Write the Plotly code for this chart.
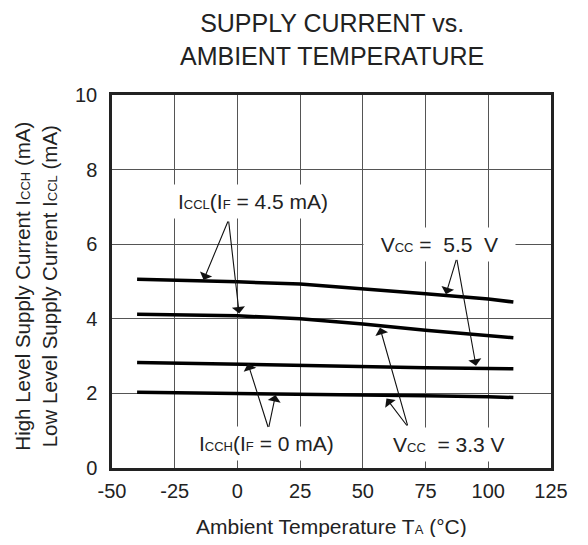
import plotly.graph_objects as go

# Data
temp = [-40, -25, 0, 25, 50, 75, 100, 110]
iccl_55 = [5.06, 5.04, 4.99, 4.93, 4.81, 4.67, 4.53, 4.45]
iccl_33 = [4.12, 4.10, 4.08, 4.00, 3.86, 3.69, 3.56, 3.49]
icch_55 = [2.83, 2.81, 2.78, 2.75, 2.72, 2.69, 2.67, 2.66]
icch_33 = [2.03, 2.02, 2.00, 1.99, 1.97, 1.94, 1.91, 1.89]

x_ticks = [-50, -25, 0, 25, 50, 75, 100, 125]
y_ticks = [0, 2, 4, 6, 8, 10]

FONT = "Liberation Sans, Arial, Helvetica, sans-serif"
SUB = "<span style='font-size:13px'>{}</span>"

fig = go.Figure()
for series in [iccl_55, iccl_33, icch_55, icch_33]:
    fig.add_trace(go.Scatter(x=temp, y=series, mode="lines",
                             line=dict(color="black", width=3.5),
                             showlegend=False, hoverinfo="skip"))

ann = []
# Labels
labels = [
    ("I" + SUB.format("CCL") + "(I" + SUB.format("F") + " = 4.5 mA)", 6.15, 7.14),
    ("  V" + SUB.format("CC") + " =  5.5  V  ", 80.4, 5.98),
    ("I" + SUB.format("CCH") + "(I" + SUB.format("F") + " = 0 mA)", 11.6, 0.65),
    ("V" + SUB.format("CC") + "  = 3.3 V", 84.3, 0.64),
]
for t, x, y in labels:
    ann.append(dict(text=t, x=x, y=y, xref="x", yref="y", showarrow=False,
                    bgcolor="white", borderpad=5,
                    font=dict(size=21, color="#222", family=FONT)))

# Arrows: (tail x, tail y, head x, head y)
arrows = [
    (-3.55, 6.65, -13.5, 5.04),
    (-3.55, 6.65, 0.7, 4.14),
    (87.4, 5.62, 83.1, 4.66),
    (87.4, 5.62, 95.1, 2.74),
    (12.4, 1.06, 4.2, 2.80),
    (12.4, 1.06, 15.2, 1.96),
    (68.0, 1.10, 56.8, 3.76),
    (68.0, 1.10, 59.4, 1.86),
]
for tx, ty, hx, hy in arrows:
    ann.append(dict(text="", x=hx, y=hy, ax=tx, ay=ty, xref="x", yref="y",
                    axref="x", ayref="y", showarrow=True, arrowhead=1,
                    arrowsize=2.0, arrowwidth=1.1, arrowcolor="#111"))

# Title
ann.append(dict(text="SUPPLY CURRENT vs.<br>AMBIENT TEMPERATURE", x=0.5, y=1.150,
                xref="paper", yref="paper", showarrow=False, xanchor="center",
                yanchor="middle", font=dict(size=25, color="#222", family=FONT)))
# X axis title
ann.append(dict(text="Ambient Temperature T" + SUB.format("A") + " (°C)", x=0.5, y=-0.156,
                xref="paper", yref="paper", showarrow=False, xanchor="center",
                yanchor="middle", font=dict(size=21, color="#222", family=FONT)))
# Y axis title
ann.append(dict(text="High Level Supply Current I" + SUB.format("CCH") + " (mA)<br>"
                     "Low Level Supply Current I" + SUB.format("CCL") + " (mA)",
                x=-0.172, y=0.4875, xref="paper", yref="paper", showarrow=False,
                textangle=-90, xanchor="center", yanchor="middle",
                font=dict(size=20.5, color="#222", family=FONT)))

# page body has an 8px margin, so the figure is sized/offset to compensate
fig.update_layout(
    width=572, height=529,
    margin=dict(l=104, r=17, t=87, b=69),
    paper_bgcolor="white", plot_bgcolor="white",
    font=dict(family=FONT, size=20, color="#222"),
    annotations=ann,
    showlegend=False,
)
fig.update_xaxes(range=[-50, 125], tickvals=x_ticks, ticktext=[str(v) for v in x_ticks],
                 showgrid=True, gridcolor="#555", gridwidth=1, zeroline=False,
                 showline=True, linecolor="#222", linewidth=2.5, mirror=True,
                 ticks="", ticklabelstandoff=3, tickfont=dict(size=20))
fig.update_yaxes(range=[0, 10], tickvals=y_ticks, ticktext=[str(v) for v in y_ticks],
                 showgrid=True, gridcolor="#555", gridwidth=1, zeroline=False,
                 showline=True, linecolor="#222", linewidth=2.5, mirror=True,
                 ticks="", ticklabelstandoff=8, tickfont=dict(size=20))

fig.write_html("out.html")
